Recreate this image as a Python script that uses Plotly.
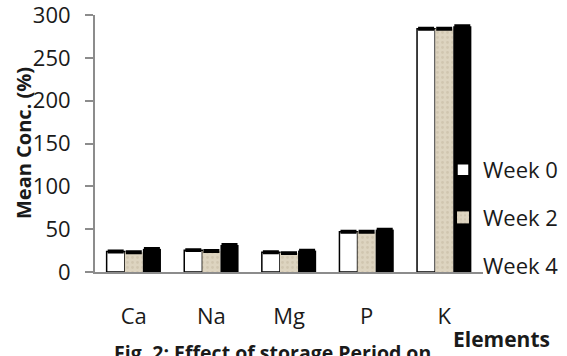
import plotly.graph_objects as go

elements = ["Ca", "Na", "Mg", "P", "K"]
week0 = [24, 25.5, 23, 47, 284]
week2 = [23, 24.5, 22, 47, 284]
week4 = [27, 31.5, 25, 49.5, 287]
err = [0.8, 0.8, 0.8, 0.8, 0.8]
series_names = ["Week 0", "Week 2", "Week 4"]

W, H = 567, 356
L, R, T, B = 95, 84, 15, 84
pw, ph = W - L - R, H - T - B

FONT = "Open Sans"

def px_to_paper_x(px):
    return (px - L) / pw

def px_to_paper_y(py):
    return (H - B - py) / ph

eb = dict(type="data", array=err, visible=True, color="black", thickness=2.5, width=8)

fig = go.Figure()
fig.add_trace(go.Bar(x=elements, y=week0, name=series_names[0], legendgroup="a",
                     marker=dict(color="white", line=dict(color="black", width=1.5)),
                     error_y=eb))
fig.add_trace(go.Bar(x=elements, y=week2, name=series_names[1], legendgroup="b",
                     marker=dict(color="#ddd4c0", line=dict(width=0),
                                 pattern=dict(shape=".", fillmode="overlay", fgcolor="#c4b89f",
                                              size=5, solidity=0.25)),
                     error_y=eb))
fig.add_trace(go.Bar(x=elements, y=week4, name=series_names[2], legendgroup="c",
                     marker=dict(color="black", line=dict(width=0)),
                     error_y=eb))

fig.update_layout(
    width=W, height=H,
    margin=dict(l=L, r=R, t=T, b=B, autoexpand=False),
    paper_bgcolor="white", plot_bgcolor="white",
    font=dict(family=FONT, size=22, color="#1a1a1a"),
    barmode="group", bargap=0.30, bargroupgap=0.0,
    showlegend=True,
    legend=dict(x=px_to_paper_x(443), xanchor="left",
                y=px_to_paper_y(149), yanchor="top",
                traceorder="grouped", tracegroupgap=16,
                bgcolor="rgba(0,0,0,0)", font=dict(size=22, family=FONT)),
    xaxis=dict(showline=True, linecolor="#8c8c8c", linewidth=2, ticks="",
               showgrid=False, zeroline=False, ticklabelstandoff=24, automargin=False,
               tickfont=dict(size=22)),
    yaxis=dict(range=[0, 300], dtick=50, showline=True, linecolor="#8c8c8c", linewidth=2,
               ticks="outside", ticklen=8, tickcolor="#8c8c8c", tickwidth=1.5,
               showgrid=False, zeroline=False, ticklabelstandoff=10, automargin=False,
               ticklabeloverflow="allow",
               tickfont=dict(size=22)),
    annotations=[
        dict(text="<b>Mean Conc. (%)</b>", textangle=-90, xref="paper", yref="paper",
             x=px_to_paper_x(23), y=px_to_paper_y(143), xanchor="center", yanchor="middle",
             showarrow=False, font=dict(size=20, family=FONT, color="#1a1a1a")),
        dict(text="<b>Elements</b>", xref="paper", yref="paper",
             x=px_to_paper_x(451), y=px_to_paper_y(339), xanchor="left", yanchor="middle",
             showarrow=False, font=dict(size=21, family=FONT, color="#1a1a1a")),
        dict(text="<b>Fig. 2: Effect of storage Period on</b>", xref="paper", yref="paper",
             x=px_to_paper_x(112), y=px_to_paper_y(352), xanchor="left", yanchor="middle",
             showarrow=False, font=dict(size=19.5, family=FONT, color="#1a1a1a")),
    ],
)

fig.write_html("out.html")
